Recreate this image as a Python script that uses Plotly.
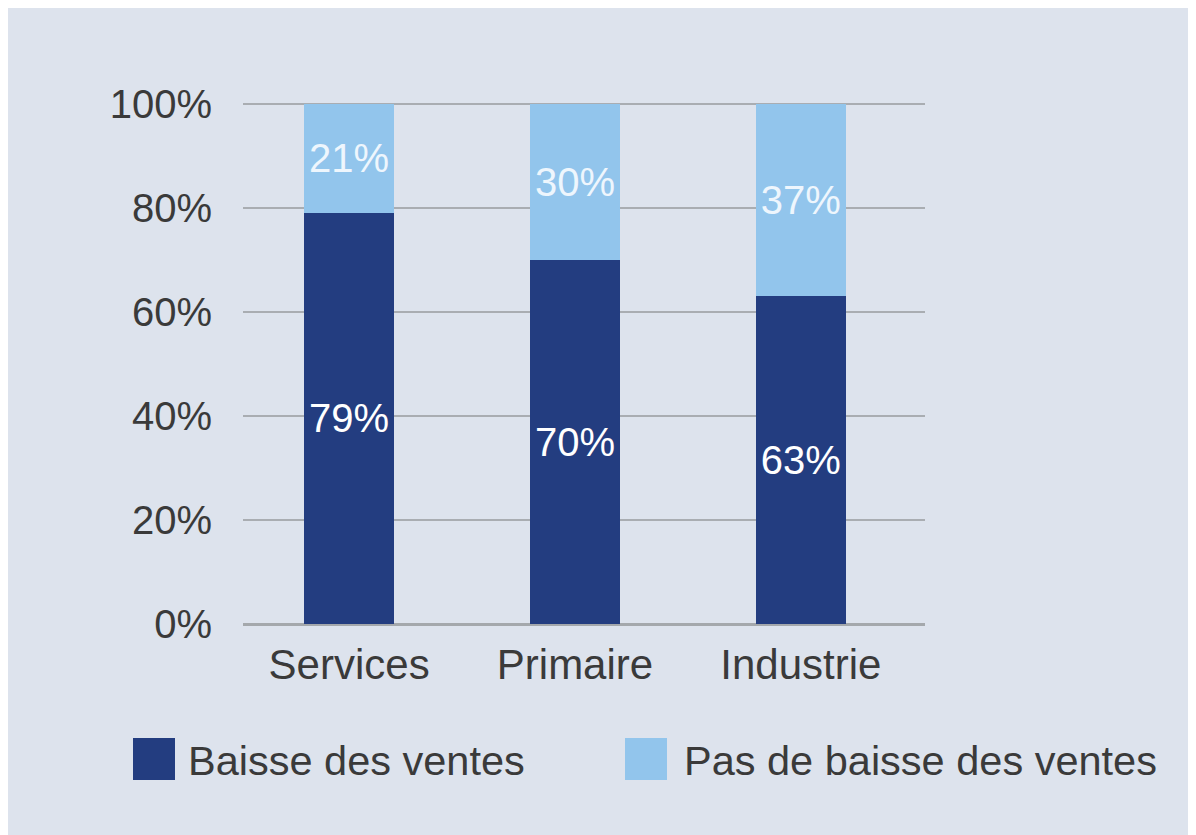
import plotly.graph_objects as go

categories = ["Services", "Primaire", "Industrie"]
baisse = [79, 70, 63]
pas_baisse = [21, 30, 37]
series_names = ["Baisse des ventes", "Pas de baisse des ventes"]
tick_vals = [0, 20, 40, 60, 80, 100]
tick_text = ["0%", "20%", "40%", "60%", "80%", "100%"]

DARK = "#233d80"
LIGHT = "#92c5ec"
BG = "#dde3ed"
TXT = "#3a3a3a"
GRID = "#a9adb2"
FONT = "Liberation Sans, Arial, sans-serif"

# page body adds an 8px offset
OFF = 8
W, H = 1216, 855
L, R, T, B = 243 - OFF, 925 - OFF, 102 - OFF, 624 - OFF
pw, ph = R - L, B - T


def px(x):
    return (x - OFF - L) / pw


def py(y):
    return (B - (y - OFF)) / ph


fig = go.Figure()
fig.add_trace(go.Bar(
    x=categories, y=baisse, name=series_names[0], marker_color=DARK,
    marker_line_width=0, width=0.4,
    text=[f"{v}%" for v in baisse], textposition="inside",
    insidetextanchor="middle", constraintext="none",
    textfont=dict(color="white", size=40, family=FONT), hoverinfo="skip",
))
fig.add_trace(go.Bar(
    x=categories, y=pas_baisse, name=series_names[1], marker_color=LIGHT,
    marker_line_width=0, width=0.4,
    text=[f"{v}%" for v in pas_baisse], textposition="inside",
    insidetextanchor="middle", constraintext="none",
    textfont=dict(color="#eef6fd", size=40, family=FONT), hoverinfo="skip",
))

shapes = [
    dict(type="rect", xref="paper", yref="paper", x0=px(133), x1=px(175),
         y0=py(780), y1=py(738), fillcolor=DARK, line_width=0),
    dict(type="rect", xref="paper", yref="paper", x0=px(625), x1=px(667),
         y0=py(780), y1=py(738), fillcolor=LIGHT, line_width=0),
]
annotations = [
    dict(xref="paper", yref="paper", x=px(186), y=py(760), text=series_names[0],
         showarrow=False, xanchor="left", yanchor="middle",
         font=dict(size=41.5, color=TXT, family=FONT)),
    dict(xref="paper", yref="paper", x=px(682), y=py(760), text=series_names[1],
         showarrow=False, xanchor="left", yanchor="middle",
         font=dict(size=41.5, color=TXT, family=FONT)),
]

fig.update_layout(
    width=W, height=H, barmode="stack", showlegend=False,
    paper_bgcolor=BG, plot_bgcolor="rgba(0,0,0,0)",
    margin=dict(l=L, r=W - R, t=T, b=H - B, pad=0),
    font=dict(family=FONT, color=TXT, size=40),
    shapes=shapes, annotations=annotations,
    xaxis=dict(range=[-0.47, 2.55], showgrid=False, zeroline=False,
               showline=False, ticks="", ticklabelstandoff=12,
               tickfont=dict(size=42, color=TXT, family=FONT)),
    yaxis=dict(range=[0, 100.3], tickvals=tick_vals, ticktext=tick_text,
               showgrid=True, gridcolor=GRID, gridwidth=1.5,
               zeroline=True, zerolinecolor="#a4a8ac", zerolinewidth=3,
               showline=False, ticks="", ticklabelstandoff=30,
               tickfont=dict(size=40, color=TXT, family=FONT)),
)

fig.write_html("out.html",
               post_script="document.documentElement.style.overflow='hidden';"
                           "document.body.style.overflow='hidden';")
